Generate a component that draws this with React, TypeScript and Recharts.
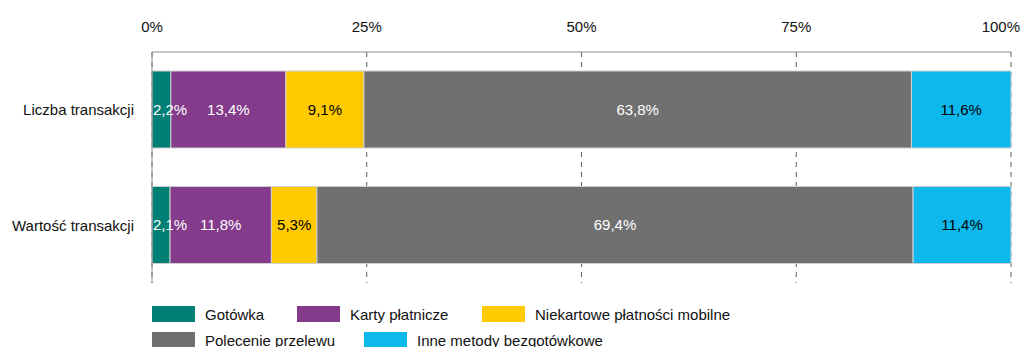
import { Bar, BarChart, CartesianGrid, LabelList, Legend, XAxis, YAxis } from "recharts";

const font = '"Liberation Sans", Arial, sans-serif';
const fontSize = 15;
const axisGray = "#8c8c8c";
const gridGray = "#5f5f5f";

// rows of the chart
const categories = ["Liczba transakcji", "Wartość transakcji"];

// shares in percent, one array per payment method
const cash = [2.2, 2.1];
const cards = [13.4, 11.8];
const mobile = [9.1, 5.3];
const transfer = [63.8, 69.4];
const other = [11.6, 11.4];

const xTicks = [0, 0.25, 0.5, 0.75, 1];

const series = [
  { key: "cash", name: "Gotówka", values: cash, color: "#007F74", text: "#ffffff" },
  { key: "cards", name: "Karty płatnicze", values: cards, color: "#843B8B", text: "#ffffff" },
  { key: "mobile", name: "Niekartowe płatności mobilne", values: mobile, color: "#FFCB00", text: "#000000" },
  { key: "transfer", name: "Polecenie przelewu", values: transfer, color: "#707070", text: "#ffffff" },
  { key: "other", name: "Inne metody bezgotówkowe", values: other, color: "#0DB9EC", text: "#000000" },
];

const data = categories.map((name, i) => {
  const row: Record<string, string | number> = { name };
  series.forEach((s) => {
    row[s.key] = s.values[i];
  });
  return row;
});

const pct = (v: number) => `${v.toFixed(1).replace(".", ",")}%`;

function TopTick(props: any) {
  const { x, y, payload } = props;
  const last = payload.value === 1;
  return (
    <text
      x={last ? x + 9 : x}
      y={y}
      textAnchor={last ? "end" : "middle"}
      fill="#111"
      fontSize={fontSize}
      fontFamily={font}
    >
      {`${Math.round(payload.value * 100)}%`}
    </text>
  );
}

// centred value; a segment too narrow for its text gets it pinned to its left edge
function makeSegmentLabel(color: string) {
  return function SegmentLabel(props: any) {
    const { x, y, width, height, value } = props;
    const narrow = width < 36;
    return (
      <text
        x={narrow ? x + 1 : x + width / 2}
        y={y + height / 2}
        dy="0.35em"
        textAnchor={narrow ? "start" : "middle"}
        fill={color}
        fontSize={fontSize}
        fontFamily={font}
      >
        {pct(Number(value))}
      </text>
    );
  };
}

// legend laid out in two rows like the printed report
const legendRows = [
  { keys: ["cash", "cards", "mobile"], widths: [145, 185, 300] },
  { keys: ["transfer", "other"], widths: [212, 300] },
];

function LegendBox() {
  return (
    <div style={{ fontFamily: font, fontSize, color: "#111" }}>
      {legendRows.map((row, r) => (
        <div key={r} style={{ display: "flex", height: 26, alignItems: "center" }}>
          {row.keys.map((k, j) => {
            const s = series.find((d) => d.key === k)!;
            return (
              <div key={k} style={{ width: row.widths[j], display: "flex", alignItems: "center" }}>
                <span style={{ width: 43, height: 16, background: s.color, display: "inline-block" }} />
                <span style={{ marginLeft: 10, whiteSpace: "nowrap" }}>{s.name}</span>
              </div>
            );
          })}
        </div>
      ))}
    </div>
  );
}

export default function App() {
  return (
    <div
      style={{
        position: "absolute",
        left: 0,
        top: 0,
        width: 1024,
        height: 347,
        background: "#fff",
        fontFamily: font,
        overflow: "hidden",
      }}
    >
      <BarChart
        width={1024}
        height={347}
        data={data}
        layout="vertical"
        stackOffset="expand"
        barSize={77}
        margin={{ top: 22, right: 13, bottom: 64, left: 0 }}
      >
        <CartesianGrid horizontal={false} stroke={gridGray} strokeDasharray="5 5" />
        <XAxis
          type="number"
          orientation="top"
          domain={[0, 1]}
          ticks={xTicks}
          height={30}
          tick={<TopTick />}
          tickLine={false}
          tickSize={6}
          tickMargin={14}
          axisLine={{ stroke: axisGray }}
        />
        <YAxis
          type="category"
          dataKey="name"
          width={152}
          tickLine={false}
          tickMargin={12}
          axisLine={{ stroke: axisGray }}
          tick={{ fill: "#111", fontSize, fontFamily: font }}
        />
        {/* hidden twin axis so the value labels sit above every segment */}
        <YAxis yAxisId="labels" type="category" dataKey="name" hide />
        {series.map((s) => (
          <Bar
            key={s.key}
            dataKey={s.key}
            name={s.name}
            stackId="a"
            fill={s.color}
            stroke="#cfcfcf"
            strokeWidth={1}
            isAnimationActive={false}
          />
        ))}
        {series.map((s) => (
          <Bar
            key={`${s.key}-lbl`}
            dataKey={s.key}
            yAxisId="labels"
            stackId="labels"
            fill="none"
            stroke="none"
            legendType="none"
            isAnimationActive={false}
          >
            <LabelList dataKey={s.key} content={makeSegmentLabel(s.text)} />
          </Bar>
        ))}
        <Legend
          layout="horizontal"
          verticalAlign="middle"
          align="center"
          content={<LegendBox />}
          wrapperStyle={{ top: 301, left: 152, width: 800 }}
        />
      </BarChart>
    </div>
  );
}
